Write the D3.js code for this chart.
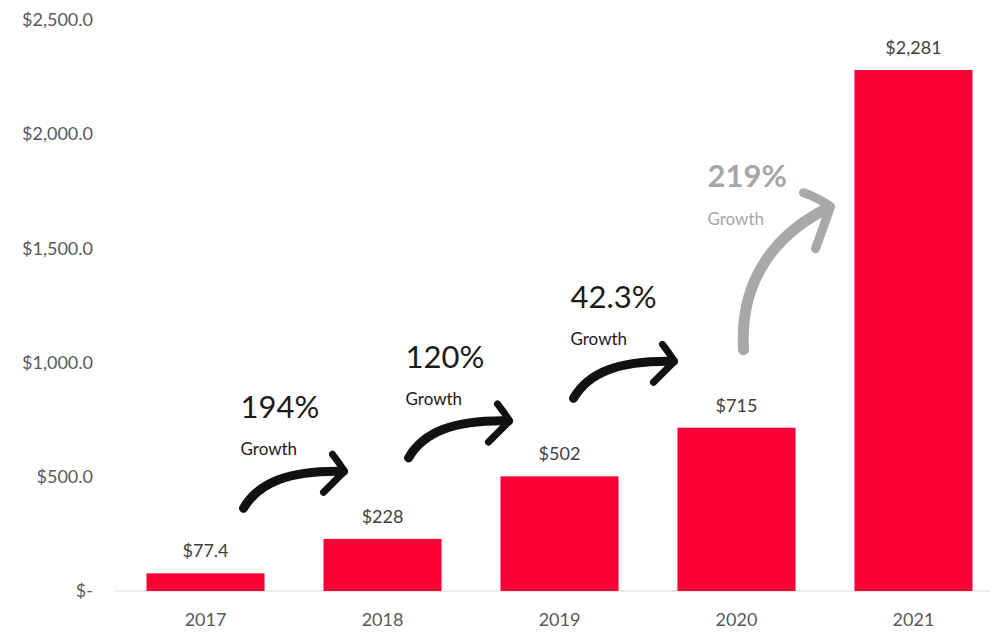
<!DOCTYPE html>
<html>
<head>
<meta charset="utf-8">
<script src="https://cdn.jsdelivr.net/npm/d3@7"></script>
<style>
  html, body { margin: 0; padding: 0; background: #ffffff; }
  svg { display: block; font-family: Lato, "Open Sans", sans-serif; }
</style>
</head>
<body>
<svg id="chart" width="1003" height="638"></svg>
<script>
// Yearly values (USD)
const years = ["2017", "2018", "2019", "2020", "2021"];
const values = [77.4, 228, 502, 715, 2281];
const valueLabels = ["$77.4", "$228", "$502", "$715", "$2,281"];

// Y axis ticks and their labels
const yTicks = [0, 500, 1000, 1500, 2000, 2500];
const yTickLabels = ["$-", "$500.0", "$1,000.0", "$1,500.0", "$2,000.0", "$2,500.0"];

// Growth callouts between consecutive years
const growthFrom = ["2017", "2018", "2019", "2020"];
const growthText = ["194%", "120%", "42.3%", "219%"];

const svg = d3.select("#chart");

const x = d3.scaleBand()
  .domain(years)
  .range([117, 1002])
  .paddingInner(0.333)
  .paddingOuter(0.1667);

const y = d3.scaleLinear()
  .domain([0, 2500])
  .range([591, 20]);

// Y tick labels (no axis line)
const yAxis = d3.axisLeft(y)
  .tickValues(yTicks)
  .tickFormat((d, i) => yTickLabels[i])
  .tickSize(0)
  .tickPadding(0);

svg.append("g")
  .attr("transform", "translate(93,0)")
  .call(yAxis)
  .call(g => g.select(".domain").remove())
  .call(g => g.selectAll("text")
    .attr("fill", "#595959")
    .attr("font-size", 18)
    .attr("font-family", "Lato, 'Open Sans', sans-serif"));

// Baseline
svg.append("line")
  .attr("x1", 115).attr("x2", 990)
  .attr("y1", y(0)).attr("y2", y(0))
  .attr("stroke", "#d9d9d9")
  .attr("stroke-width", 1.2);

// X axis labels
const xAxis = d3.axisBottom(x).tickSize(0).tickPadding(0);
svg.append("g")
  .attr("transform", `translate(0,${y(0) + 22})`)
  .call(xAxis)
  .call(g => g.select(".domain").remove())
  .call(g => g.selectAll("text")
    .attr("fill", "#595959")
    .attr("font-size", 18)
    .attr("dy", "0.71em")
    .attr("font-family", "Lato, 'Open Sans', sans-serif"));

// Bars
svg.append("g")
  .selectAll("rect")
  .data(values)
  .join("rect")
  .attr("x", (d, i) => x(years[i]))
  .attr("width", x.bandwidth())
  .attr("y", d => y(d))
  .attr("height", d => y(0) - y(d))
  .attr("fill", "#fa0037");

// Value labels above bars
svg.append("g")
  .selectAll("text")
  .data(values)
  .join("text")
  .attr("x", (d, i) => x(years[i]) + x.bandwidth() / 2)
  .attr("y", d => y(d) - 16)
  .attr("text-anchor", "middle")
  .attr("fill", "#404040")
  .attr("font-size", 18)
  .text((d, i) => valueLabels[i]);

// Hand-drawn style growth arrows
const bc = yr => x(yr) + x.bandwidth() / 2;
const valOf = yr => values[years.indexOf(yr)];

// Anchor offsets (px) relative to the source bar's centre and top
const anchorDx = [38, 26, 14, 7];
const anchorDy = [-65, -81, -78, -78];

const flatShape = {
  body: "M0,0 C15,-26 45,-38 100,-37",
  head: "M89,-54 Q96,-45 101,-37 L80,-16",
  tx: -3, ty1: -90, ty2: -53
};
const riseShape = {
  body: "M0,0 C-4,-70 32,-116 85,-142",
  head: "M60,-157 Q75,-152 87,-143 L72,-101",
  tx: -36, ty1: -163, ty2: -125
};

growthFrom.forEach((yr, i) => {
  const last = i === growthFrom.length - 1;
  const shape = last ? riseShape : flatShape;
  const color = last ? "#a8a8a8" : "#111111";
  const ax = bc(yr) + anchorDx[i];
  const ay = y(valOf(yr)) + anchorDy[i];
  const g = svg.append("g").attr("transform", `translate(${ax},${ay})`);

  g.append("path")
    .attr("d", shape.body)
    .attr("fill", "none")
    .attr("stroke", color)
    .attr("stroke-width", last ? 11 : 9)
    .attr("stroke-linecap", "round");
  g.append("path")
    .attr("d", shape.head)
    .attr("fill", "none")
    .attr("stroke", color)
    .attr("stroke-width", last ? 9 : 7)
    .attr("stroke-linecap", "round")
    .attr("stroke-linejoin", "round");

  g.append("text")
    .attr("x", shape.tx).attr("y", shape.ty1)
    .attr("fill", last ? "#a6a6a6" : "#1a1a1a")
    .attr("font-size", 31)
    .attr("font-weight", last ? 700 : 400)
    .text(growthText[i]);
  g.append("text")
    .attr("x", shape.tx).attr("y", shape.ty2)
    .attr("fill", last ? "#a6a6a6" : "#1a1a1a")
    .attr("font-size", 17)
    .text("Growth");
});
</script>
</body>
</html>
